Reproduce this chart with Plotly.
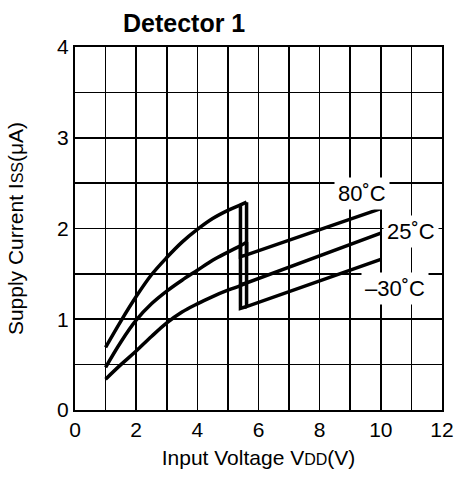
import plotly.graph_objects as go

# Upper branch (rising VDD)
upper_v = [1.0, 1.5, 2.0, 2.5, 3.0, 3.5, 4.0, 4.5, 5.0, 5.41, 5.61]
upper_80 = [0.69, 0.98, 1.25, 1.49, 1.68, 1.85, 1.99, 2.11, 2.20, 2.26, 2.29]
upper_25 = [0.47, 0.75, 0.99, 1.17, 1.31, 1.43, 1.54, 1.65, 1.74, 1.81, 1.85]
upper_m30 = [0.34, 0.50, 0.65, 0.81, 0.96, 1.08, 1.17, 1.25, 1.32, 1.37, 1.40]

# Lower branch (after detection): voltages and currents
lower_v = [5.41, 5.61, 10.0]
lower_80 = [1.69, 1.71, 2.22]
lower_25 = [1.38, 1.40, 1.95]
lower_m30 = [1.12, 1.14, 1.66]

labels = ["80˚C", "25˚C", "–30˚C"]
label_x = [9.40, 10.97, 10.45]
label_y = [2.39, 1.97, 1.34]

x_ticks = list(range(0, 13))
x_ticktext = [str(v) if v % 2 == 0 else "" for v in x_ticks]
y_ticks = [0, 0.5, 1, 1.5, 2, 2.5, 3, 3.5, 4]
y_ticktext = [str(int(v)) if v == int(v) else "" for v in y_ticks]

FONT = "Arial, Liberation Sans, sans-serif"
LW = 3.5

fig = go.Figure()
for up, lo in [(upper_80, lower_80), (upper_25, lower_25), (upper_m30, lower_m30)]:
    fig.add_trace(go.Scatter(x=upper_v, y=up, mode="lines",
                             line=dict(color="black", width=LW, shape="spline", smoothing=1.0),
                             showlegend=False, hoverinfo="skip"))
    xs = [upper_v[-1], lower_v[1], lower_v[2], None, upper_v[-2], lower_v[0], lower_v[1]]
    ys = [up[-1], lo[1], lo[2], None, up[-2], lo[0], lo[1]]
    fig.add_trace(go.Scatter(x=xs, y=ys, mode="lines", connectgaps=False,
                             line=dict(color="black", width=LW),
                             showlegend=False, hoverinfo="skip"))

for t, lx, ly in zip(labels, label_x, label_y):
    fig.add_annotation(x=lx, y=ly, text=t, showarrow=False, bgcolor="white",
                       borderpad=3, font=dict(size=22, color="black", family=FONT))

fig.add_annotation(xref="paper", yref="paper", x=0.296, y=1.0, yshift=24,
                   xanchor="center", yanchor="middle", text="<b>Detector 1</b>",
                   showarrow=False, font=dict(size=25, color="black", family=FONT))

fig.update_layout(
    width=455, height=477,
    margin=dict(l=75, r=13, t=47, b=67, autoexpand=False),
    paper_bgcolor="white", plot_bgcolor="white",
    font=dict(family=FONT, size=21, color="black"),
    xaxis=dict(range=[0, 12], tickvals=x_ticks, ticktext=x_ticktext,
               showgrid=True, gridcolor="black", gridwidth=1.6,
               showline=True, linecolor="black", linewidth=2, mirror=True,
               ticks="", zeroline=False, tickfont=dict(size=21), automargin=False,
               title=dict(text="Input Voltage V<span style='font-size:16px'>DD</span>(V)",
                          font=dict(size=21), standoff=10)),
    yaxis=dict(range=[0, 4], tickvals=y_ticks, ticktext=y_ticktext,
               showgrid=True, gridcolor="black", gridwidth=1.6,
               showline=True, linecolor="black", linewidth=2, mirror=True,
               ticks="", zeroline=False, tickfont=dict(size=21), automargin=False,
               title=dict(text="Supply Current I<span style='font-size:16px'>SS</span>(μA)",
                          font=dict(size=21), standoff=28)),
)

fig.write_html(
    "out.html",
    config={"displayModeBar": False, "staticPlot": True},
    post_script="document.body.style.margin='0';document.body.style.overflow='hidden';",
)
